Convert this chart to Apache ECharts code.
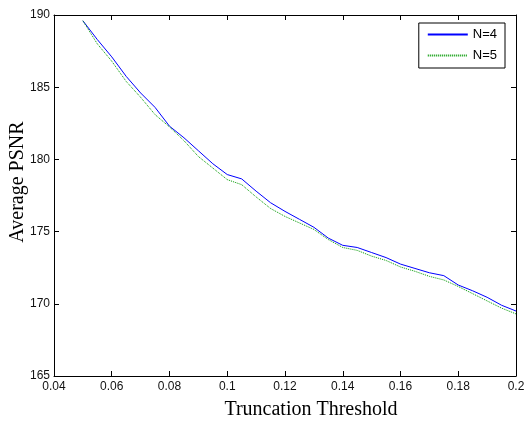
<!DOCTYPE html>
<html>
<head>
<meta charset="utf-8">
<script src="https://cdn.jsdelivr.net/npm/echarts@6/dist/echarts.min.js"></script>
<style>
  html, body { margin: 0; padding: 0; background: #fff; }
  #chart { width: 526px; height: 421px; }
</style>
</head>
<body>
<div id="chart"></div>
<script>
// Truncation thresholds (x) and average PSNR per setting
const thresholds = [0.05, 0.055, 0.06, 0.065, 0.07, 0.075, 0.08, 0.085, 0.09, 0.095,
  0.1, 0.105, 0.11, 0.115, 0.12, 0.125, 0.13, 0.135, 0.14, 0.145,
  0.15, 0.155, 0.16, 0.165, 0.17, 0.175, 0.18, 0.185, 0.19, 0.195, 0.2];
const psnrN4 = [189.6, 188.3, 187.1, 185.75, 184.6, 183.6, 182.3, 181.5, 180.6, 179.7,
  178.95, 178.65, 177.8, 177.0, 176.4, 175.85, 175.3, 174.55, 174.05, 173.9,
  173.55, 173.2, 172.75, 172.45, 172.15, 171.95, 171.3, 170.9, 170.45, 169.9, 169.5];
const psnrN5 = [189.6, 188.0, 186.8, 185.4, 184.3, 183.1, 182.25, 181.3, 180.2, 179.4,
  178.6, 178.25, 177.4, 176.6, 176.05, 175.6, 175.15, 174.45, 173.9, 173.7,
  173.3, 173.0, 172.55, 172.25, 171.9, 171.65, 171.2, 170.7, 170.2, 169.7, 169.3];
const seriesNames = ['N=4', 'N=5'];

const pairs = (ys) => thresholds.map((x, i) => [x, ys[i]]);

const chart = echarts.init(document.getElementById('chart'), null, { renderer: 'canvas' });

const sans = 'Liberation Sans, Arial, sans-serif';
const serif = 'Liberation Serif, Times New Roman, serif';
const tickFont = { fontFamily: sans, fontSize: 12, color: '#111' };
const frame = { show: true, lineStyle: { color: '#000', width: 1 } };
const inTicks = { show: true, inside: true, length: 5, lineStyle: { color: '#000', width: 1 } };

chart.setOption({
  animation: false,
  backgroundColor: '#fff',
  grid: { left: 54, right: 10, top: 15, bottom: 45, containLabel: false, outerBoundsMode: 'none' },
  // vertical y-axis title
  graphic: [{
    type: 'text',
    x: 18, y: 182,
    rotation: Math.PI / 2,
    style: {
      text: 'Average PSNR',
      font: '20px "Liberation Serif", "Times New Roman", serif',
      fill: '#000',
      align: 'center',
      verticalAlign: 'middle'
    }
  }],
  legend: {
    right: 21, top: 23,
    orient: 'vertical',
    itemWidth: 40, itemHeight: 14, itemGap: 8,
    padding: [5, 8, 6, 8],
    borderColor: '#000', borderWidth: 1, backgroundColor: '#fff', borderRadius: 0,
    itemStyle: { opacity: 0 },
    textStyle: { fontFamily: sans, fontSize: 13, color: '#000' },
    data: seriesNames
  },
  xAxis: [
    {
      type: 'value', min: 0.04, max: 0.2, interval: 0.02,
      name: 'Truncation Threshold', nameLocation: 'middle', nameGap: 24,
      nameTextStyle: { fontFamily: serif, fontSize: 20, color: '#000', padding: [0, 0, 0, 52] },
      axisLine: frame, axisTick: inTicks,
      axisLabel: Object.assign({ margin: 5 }, tickFont),
      splitLine: { show: false }
    },
    {
      type: 'value', position: 'top', min: 0.04, max: 0.2, interval: 0.02,
      axisLine: frame, axisTick: inTicks, axisLabel: { show: false }, splitLine: { show: false }
    }
  ],
  yAxis: [
    {
      type: 'value', min: 165, max: 190, interval: 5,
      axisLine: frame, axisTick: inTicks,
      axisLabel: Object.assign({ margin: 4 }, tickFont),
      splitLine: { show: false }
    },
    {
      type: 'value', position: 'right', min: 165, max: 190, interval: 5,
      axisLine: frame, axisTick: inTicks, axisLabel: { show: false }, splitLine: { show: false }
    }
  ],
  series: [
    {
      name: seriesNames[0], type: 'line', data: pairs(psnrN4),
      showSymbol: false, symbol: 'none',
      lineStyle: { color: '#0000ff', width: 1, type: 'solid' },
      itemStyle: { color: '#0000ff' }
    },
    {
      name: seriesNames[1], type: 'line', data: pairs(psnrN5),
      showSymbol: false, symbol: 'none',
      lineStyle: { color: '#009900', width: 1, type: [1, 1] },
      itemStyle: { color: '#009900' }
    }
  ]
});
</script>
</body>
</html>
